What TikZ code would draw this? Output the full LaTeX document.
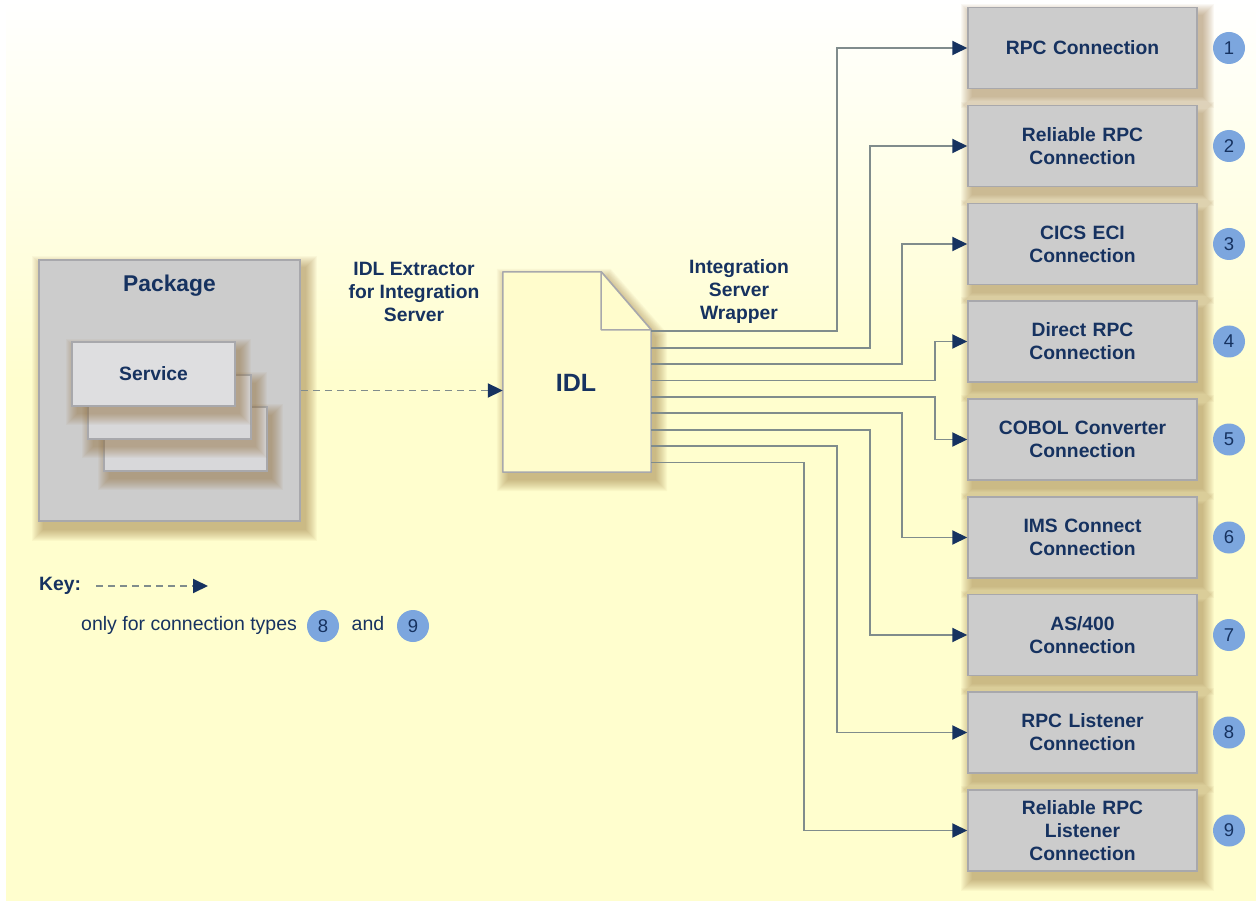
\documentclass[tikz,border=0pt]{standalone}
\usepackage{fontspec}
\setmainfont{Liberation Sans}
\usetikzlibrary{arrows.meta,calc}
\definecolor{navy}{RGB}{22,50,96}
\definecolor{bgyel}{RGB}{255,254,206}
\definecolor{boxgray}{RGB}{204,204,204}
\definecolor{boxedge}{RGB}{168,168,172}
\definecolor{wirec}{RGB}{128,140,140}
\definecolor{numblue}{RGB}{124,166,222}
\definecolor{idlfill}{RGB}{255,252,204}
\definecolor{svcfill}{RGB}{222,222,224}
\definecolor{svcback}{RGB}{216,216,218}
\definecolor{shadowc}{RGB}{140,100,40}
\pgfdeclarelayer{bgfill}
\pgfdeclarelayer{shadows}
\pgfsetlayers{bgfill,shadows,main}
\newcommand{\nodeshadow}[1]{\foreach \r in {0,...,11}{\fill[shadowc,opacity=0.042] ($(#1.north west)+({5-\r},{8-\r})$) rectangle ($(#1.south east)+({5+\r},{8+\r})$);}}
\newcommand{\boxshadow}[4]{\foreach \r in {0,...,11}{\fill[shadowc,opacity=0.042] ({#1+5-\r},{#2+8-\r}) rectangle ({#3+5+\r},{#4+8+\r});}}
\tikzset{
 connbox/.style={draw=boxedge, line width=1.5pt, fill=boxgray, minimum width=229pt, minimum height=81pt, text width=220pt, align=center, inner sep=0pt, font=\bfseries\fontsize{19.3}{23}\selectfont, text=navy},
 numc/.style={circle, fill=numblue, minimum size=32pt, inner sep=0pt, font=\fontsize{18.5}{20}\selectfont, text=navy},
 wire/.style={draw=wirec, line width=1.9pt, -{Triangle[length=15pt,width=14pt,color=navy]}},
 dashwire/.style={wire, dash pattern=on 7pt off 5pt},
 lbl/.style={align=center, font=\bfseries\fontsize{19.3}{23}\selectfont, text=navy},
 plain/.style={text=navy, font=\fontsize{19.5}{22}\selectfont},
 svcbox/.style={draw=boxedge, line width=1.2pt, minimum width=163pt, minimum height=64pt, inner sep=0pt},
}
\begin{document}
\begin{tikzpicture}[x=1pt,y=-1pt]
\useasboundingbox (0,0) rectangle (1256,901);
% background
\begin{pgfonlayer}{bgfill}
\fill[bgyel] (6,0) rectangle (1256,901);
\shade[top color=white, bottom color=bgyel] (6,0) rectangle (1256,380);
\end{pgfonlayer}

% package
\node[draw=boxedge, line width=1.5pt, fill=boxgray, minimum width=261pt, minimum height=261pt] (pkg) at (169.5,390.5) {};
\node[lbl, font=\bfseries\fontsize{22.8}{26}\selectfont] (pkgt) at (169.5,286) {Package};
\boxshadow{104}{407}{267}{471}
\node[svcbox, fill=svcback] (s3) at (185.5,439) {};
\boxshadow{88}{375}{251}{439}
\node[svcbox, fill=svcback] (s2) at (169.5,407) {};
\boxshadow{72}{342}{235}{406}
\node[svcbox, fill=svcfill, lbl] (s1) at (153.5,374) {Service};

% IDL document
\node[minimum width=148pt, minimum height=200pt, inner sep=0pt] (idl) at (577,372) {};
\coordinate (fa) at ($(idl.north east)+(-50,0)$);
\coordinate (fb) at ($(idl.north east)+(0,58)$);
\coordinate (fc) at ($(idl.north east)+(-50,58)$);
\begin{pgfonlayer}{shadows}
\foreach \r in {0,...,11}{
  \fill[shadowc,opacity=0.042] ($(idl.north west)+({5-\r},{8-\r})$) -- ($(fa)+({5+0.4*\r},{8-\r})$) -- ($(fb)+({5+\r},{8-0.4*\r})$) -- ($(idl.south east)+({5+\r},{8+\r})$) -- ($(idl.south west)+({5-\r},{8+\r})$) -- cycle;
}
\end{pgfonlayer}
\filldraw[fill=idlfill, draw=boxedge, line width=1.5pt, line join=round]
  (idl.north west) -- (fa) -- (fb) -- (idl.south east) -- (idl.south west) -- cycle;
\filldraw[fill=idlfill, draw=boxedge, line width=1.5pt, line join=round]
  (fa) -- (fc) -- (fb) -- cycle;
\node[lbl, font=\bfseries\fontsize{25}{28}\selectfont] (idlt) at (576,383) {IDL};

% labels
\node[lbl] (extr) at (414,292) {IDL Extractor\\for Integration\\Server};
\node[lbl] (wrap) at (739,292) {Integration\\Server\\Wrapper};

% dashed extractor arrow
\draw[dashwire] (pkg.east) -- (pkg.east -| idl.west);

% connection boxes
\node[connbox] (b1) at (1082.5,48) {RPC Connection};
\node[connbox] (b2) at (1082.5,146) {Reliable RPC\\Connection};
\node[connbox] (b3) at (1082.5,244) {CICS ECI\\Connection};
\node[connbox] (b4) at (1082.5,341.5) {Direct RPC\\Connection};
\node[connbox] (b5) at (1082.5,439.5) {COBOL Converter\\Connection};
\node[connbox] (b6) at (1082.5,537.5) {IMS Connect\\Connection};
\node[connbox] (b7) at (1082.5,635) {AS/400\\Connection};
\node[connbox] (b8) at (1082.5,732.5) {RPC Listener\\Connection};
\node[connbox] (b9) at (1082.5,830.5) {Reliable RPC\\Listener\\Connection};

\begin{pgfonlayer}{shadows}
\nodeshadow{pkg}
\foreach \i in {1,...,9}{\nodeshadow{b\i}}
\end{pgfonlayer}

\foreach \i in {1,...,9}{
  \node[numc] (n\i) at ($(b\i.center)+(146.5,0)$) {\i};
}

% wires from IDL
\foreach \i/\vx in {1/838,2/870.5,3/903,4/935.5,5/935.5,6/903,7/870.5,8/838,9/805}{
  \coordinate (o\i) at ($(idl.north east)+(0,{59.5+16.4*(\i-1)})$);
  \draw[wire] (o\i) -| ([xshift={\vx-968}]b\i.west) -- (b\i.west);
}

% key
\node[lbl, anchor=west, inner sep=0pt] (key) at (39,586) {Key:};
\coordinate (ka) at (96,586);
\coordinate (kb) at (208,586);
\draw[dashwire] (ka) -- (kb);
\node[plain, anchor=west, inner sep=0pt] (only) at (81,625) {only for connection types};
\node[numc] (k8) at (323,626) {8};
\node[plain] (and) at (368,624) {and};
\node[numc] (k9) at (413,626) {9};
\end{tikzpicture}
\end{document}
